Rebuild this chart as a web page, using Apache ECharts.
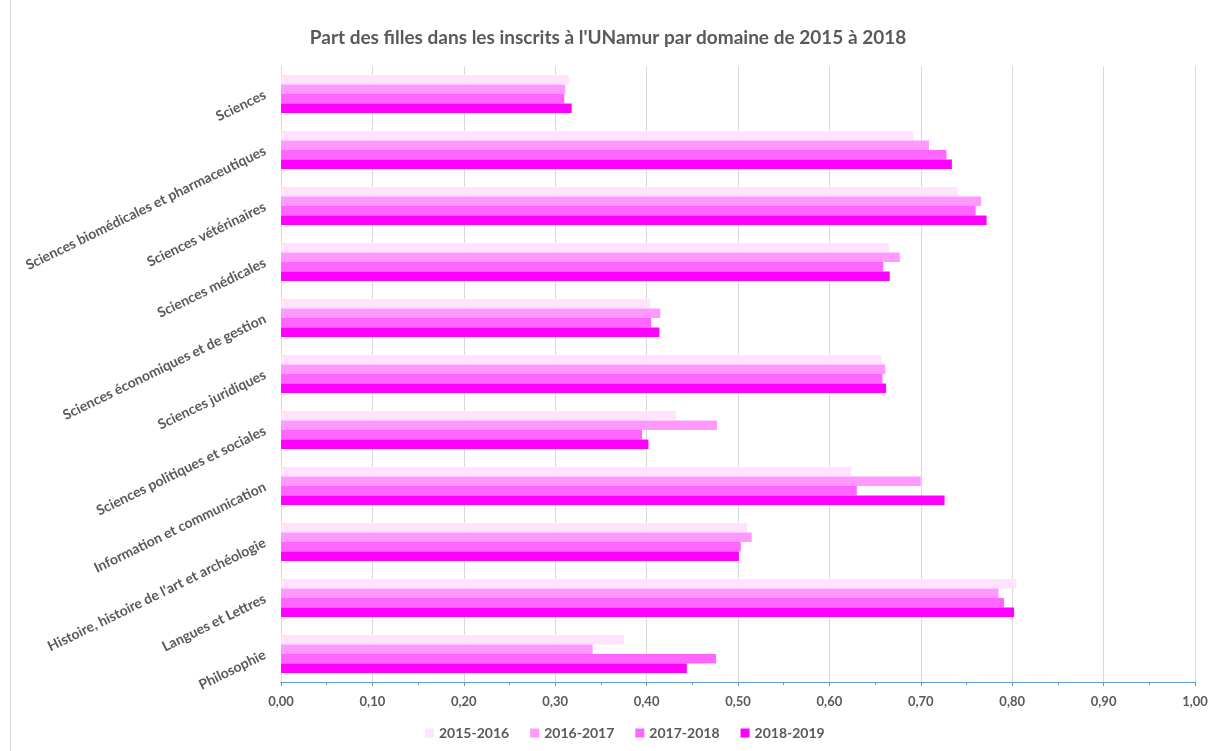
<!DOCTYPE html>
<html>
<head>
<meta charset="utf-8">
<script src="https://cdn.jsdelivr.net/npm/echarts@6/dist/echarts.min.js"></script>
<style>
html,body{margin:0;padding:0;background:#fff;}
#chart{width:1216px;height:751px;}
</style>
</head>
<body>
<div id="chart"></div>
<script>
const categories = [
  "Sciences",
  "Sciences biomédicales et pharmaceutiques",
  "Sciences vétérinaires",
  "Sciences médicales",
  "Sciences économiques et de gestion",
  "Sciences juridiques",
  "Sciences politiques et sociales",
  "Information et communication",
  "Histoire, histoire de l'art et archéologie",
  "Langues et Lettres",
  "Philosophie"
];
const seriesNames = ["2015-2016", "2016-2017", "2017-2018", "2018-2019"];
const s2015 = [0.315, 0.692, 0.740, 0.665, 0.404, 0.657, 0.432, 0.624, 0.510, 0.804, 0.375];
const s2016 = [0.311, 0.709, 0.766, 0.677, 0.415, 0.661, 0.477, 0.700, 0.515, 0.785, 0.341];
const s2017 = [0.310, 0.728, 0.760, 0.659, 0.405, 0.658, 0.395, 0.630, 0.503, 0.791, 0.476];
const s2018 = [0.318, 0.734, 0.772, 0.666, 0.414, 0.662, 0.402, 0.726, 0.501, 0.802, 0.444];
const xTicks = { min: 0, max: 1, interval: 0.1 };
const colors = ["#FFE3FC", "#FF99FF", "#FF66FF", "#FF00FF"];

const values = [s2015, s2016, s2017, s2018];
const FONT = "Lato";
const chart = echarts.init(document.getElementById('chart'));
chart.setOption({
  animation: false,
  color: colors,
  textStyle: { fontFamily: FONT },
  title: {
    text: "Part des filles dans les inscrits à l'UNamur par domaine de 2015 à 2018",
    left: 'center',
    top: 23,
    textStyle: { fontFamily: FONT, fontSize: 19, fontWeight: 'bold', color: '#595959' }
  },
  graphic: [{
    type: 'line',
    shape: { x1: 10.5, y1: 0, x2: 10.5, y2: 751 },
    style: { stroke: '#D9D9D9', lineWidth: 1 }
  }],
  legend: {
    bottom: 6,
    left: 420,
    itemWidth: 9,
    itemHeight: 9,
    itemGap: 21,
    icon: 'rect',
    textStyle: { fontFamily: FONT, fontSize: 14, fontWeight: 'bold', color: '#595959' },
    data: seriesNames
  },
  grid: { left: 281, right: 21, top: 66, bottom: 69, containLabel: false },
  xAxis: {
    type: 'value',
    min: xTicks.min,
    max: xTicks.max,
    interval: xTicks.interval,
    axisLine: { show: true, lineStyle: { color: '#5B9BD5', width: 1 } },
    axisTick: { show: true, length: 4, lineStyle: { color: '#5B9BD5' } },
    minorTick: { show: true, splitNumber: 2, length: 3, lineStyle: { color: '#5B9BD5' } },
    splitLine: { show: true, lineStyle: { color: '#D9D9D9', width: 1 } },
    axisLabel: {
      margin: 13,
      fontFamily: FONT, fontSize: 13, fontWeight: 'bold', color: '#595959',
      formatter: v => v.toFixed(2).replace('.', ',')
    }
  },
  yAxis: {
    type: 'category',
    inverse: true,
    data: categories,
    axisLine: { show: true, lineStyle: { color: '#D9D9D9' } },
    axisTick: { show: false },
    axisLabel: {
      rotate: 26,
      margin: 16,
      fontFamily: FONT, fontSize: 14, fontWeight: 'bold', color: '#595959'
    }
  },
  series: seriesNames.map((n, i) => ({
    name: n,
    type: 'bar',
    data: values[i],
    barGap: '0%',
    barCategoryGap: '32%',
    itemStyle: { color: colors[i] }
  }))
});
</script>
</body>
</html>
